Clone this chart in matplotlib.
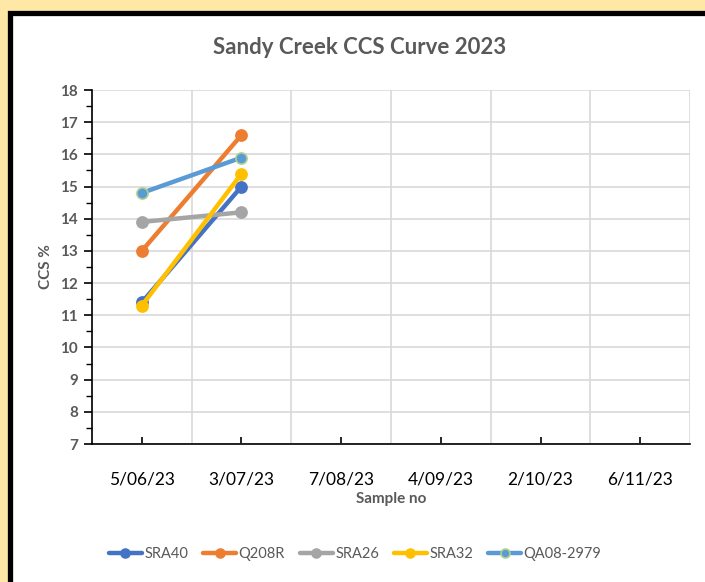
import matplotlib
matplotlib.use("Agg")
import matplotlib.pyplot as plt
from matplotlib.patches import Rectangle
import numpy as np

# ---- data ----
dates = ["5/06/23", "3/07/23", "7/08/23", "4/09/23", "2/10/23", "6/11/23"]
y_ticks = list(range(7, 19))
sra40 = [11.4, 15.0]
q208r = [13.0, 16.6]
sra26 = [13.9, 14.2]
sra32 = [11.3, 15.4]
qa08_2979 = [14.8, 15.9]

series = [
    ("SRA40", sra40, "#4472C4", "#4472C4"),
    ("Q208R", q208r, "#ED7D31", "#ED7D31"),
    ("SRA26", sra26, "#A5A5A5", "#A5A5A5"),
    ("SRA32", sra32, "#FFC000", "#FFC000"),
    ("QA08-2979", qa08_2979, "#5B9BD5", "#A9D18E"),
]

plt.rcParams['font.family'] = ['Lato', 'DejaVu Sans']
GRAY = "#595959"

fig = plt.figure(figsize=(7.05, 5.82), dpi=100)
fig.patch.set_facecolor("#FFE8A6")

# white chart panel with thick black frame
W, H = 705, 582
frame = Rectangle((9.5 / W, -0.1), 1.2, 1 + 0.1 - 12.5 / H, transform=fig.transFigure,
                  facecolor="white", edgecolor="black", linewidth=3.8, zorder=-5)
fig.patches.append(frame)

ax = fig.add_axes([92 / W, 1 - 444 / H, (690 - 92) / W, (444 - 90) / H])
ax.set_facecolor("none")
ax.set_zorder(2)

x = np.arange(len(dates))
for name, vals, col, edge in series:
    ax.plot(x[:len(vals)], vals, color=col, linewidth=3.2, marker="o", markersize=8,
            markerfacecolor=col, markeredgecolor=edge, markeredgewidth=1.2,
            label=name, solid_capstyle="round", zorder=3)

ax.set_xlim(-0.5, len(dates) - 0.5)
ax.set_ylim(7, 18)
ax.set_xticks(x)
ax.set_xticklabels(dates, fontsize=12.5, color="black")
ax.set_xticks(np.arange(-0.5, len(dates)), minor=True)
ax.set_yticks(y_ticks)
ax.set_yticklabels([str(v) for v in y_ticks], fontweight="bold", fontsize=11, color=GRAY)
ax.set_yticks(np.arange(7, 18, 0.5), minor=True)

ax.grid(axis="y", which="major", color="#D9D9D9", linewidth=1.2, zorder=0)
ax.grid(axis="x", which="minor", color="#D9D9D9", linewidth=1.2, zorder=0)

for s in ["top", "right"]:
    ax.spines[s].set_visible(False)
ax.spines["left"].set_color("black")
ax.spines["bottom"].set_color("black")
ax.spines["left"].set_linewidth(1.2)
ax.spines["bottom"].set_linewidth(1.2)

ax.tick_params(axis="y", which="major", length=6, width=1.2, direction="out", pad=4)
ax.tick_params(axis="y", which="minor", length=4, width=1.0, direction="out")
ax.tick_params(axis="x", which="major", length=5, width=1.2, direction="in", pad=20)
ax.tick_params(axis="x", which="minor", length=0)

ax.set_ylabel("CCS %", fontsize=11, fontweight="bold", color=GRAY, labelpad=5)
ax.set_xlabel("Sample no", fontsize=11, fontweight="bold", color=GRAY, labelpad=3)

fig.text(360 / W, 1 - 48 / H, "Sandy Creek CCS Curve 2023", ha="center", va="center",
         fontsize=16, fontweight="bold", color=GRAY)

leg = fig.legend(loc="center", bbox_to_anchor=(355 / W, 1 - 554 / H), ncol=5,
                 frameon=False, fontsize=10.5, handlelength=2.3, columnspacing=1.0,
                 handletextpad=0.15, markerscale=0.8)
for t in leg.get_texts():
    t.set_color(GRAY)

fig.savefig("out.png", dpi=100, facecolor=fig.get_facecolor())
